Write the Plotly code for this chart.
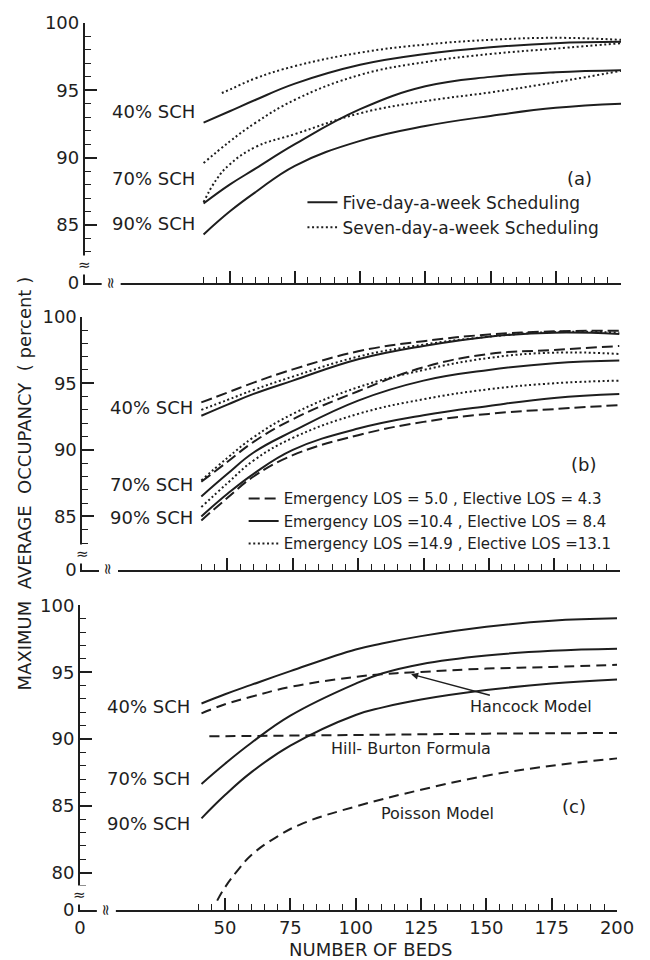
import plotly.graph_objects as go

# ---------------- data ----------------
BEDS = [40, 50, 60, 75, 100, 125, 150, 175, 200]

# Panel (a): five-day (solid) vs seven-day (dotted) scheduling
A_FIVE_40 = [92.6, 93.45, 94.3, 95.5, 96.9, 97.7, 98.2, 98.5, 98.6]
A_FIVE_70 = [86.6, 88.0, 89.2, 91.0, 93.6, 95.3, 96.0, 96.35, 96.5]
A_FIVE_90 = [84.3, 86.0, 87.45, 89.4, 91.25, 92.35, 93.1, 93.7, 94.0]
A_SEVEN_TOP_BEDS = [47, 50, 60, 75, 100, 125, 150, 175, 200]
A_SEVEN_TOP = [94.8, 95.05, 95.9, 96.8, 97.8, 98.4, 98.75, 98.9, 98.75]
A_SEVEN_MID = [89.6, 91.2, 92.6, 94.3, 96.15, 97.1, 97.7, 98.1, 98.5]
A_SEVEN_LOW_BEDS = [40, 45, 50, 60, 75, 100, 125, 150, 175, 200]
A_SEVEN_LOW = [86.7, 88.4, 89.5, 90.8, 91.75, 93.3, 94.2, 94.85, 95.6, 96.45]

# Panel (b): LOS scenarios (dashed = 5.0/4.3, solid = 10.4/8.4, dotted = 14.9/13.1)
B_DASH_40 = [93.56, 94.3, 95.05, 96.04, 97.4, 98.16, 98.66, 98.9, 98.95]
B_SOLID_40 = [92.56, 93.4, 94.2, 95.2, 96.8, 97.8, 98.5, 98.8, 98.7]
B_DOT_40 = [93.0, 93.75, 94.5, 95.5, 97.0, 97.9, 98.5, 98.85, 98.8]
B_DASH_70 = [87.6, 89.1, 90.6, 92.3, 94.4, 96.2, 97.2, 97.5, 97.8]
B_SOLID_70 = [86.5, 88.2, 89.8, 91.4, 93.7, 95.2, 96.0, 96.5, 96.7]
B_DOT_70 = [87.7, 89.4, 90.95, 92.7, 94.7, 96.0, 96.9, 97.3, 97.2]
B_DASH_90 = [84.7, 86.4, 88.0, 89.6, 91.1, 92.1, 92.7, 93.06, 93.36]
B_SOLID_90 = [85.0, 86.7, 88.2, 90.0, 91.6, 92.6, 93.3, 93.9, 94.2]
B_DOT_90 = [85.7, 87.5, 89.2, 90.9, 92.7, 93.8, 94.55, 95.0, 95.2]

# Panel (c): comparison with other models
C_BEDS = [41, 50, 60, 75, 100, 110, 125, 150, 175, 200]
C_SCH_40 = [92.66, 93.35, 94.05, 95.08, 96.7, 97.15, 97.7, 98.4, 98.85, 99.03]
C_SCH_70 = [86.64, 88.15, 89.7, 91.75, 94.15, 94.9, 95.6, 96.25, 96.6, 96.75]
C_SCH_90 = [84.06, 85.8, 87.5, 89.5, 91.8, 92.35, 92.95, 93.66, 94.15, 94.45]
C_HANCOCK = [91.92, 92.6, 93.16, 93.9, 94.65, 94.85, 95.02, 95.27, 95.39, 95.56]
HB_BEDS = [44, 100, 150, 200]
HILL_BURTON = [90.2, 90.3, 90.4, 90.45]
POISSON_BEDS = [47, 50, 55, 60, 70, 80, 100, 125, 150, 175, 200]
POISSON = [77.9, 78.9, 80.2, 81.3, 82.7, 83.7, 84.95, 86.2, 87.25, 88.0, 88.55]

X_TICKS = [50, 75, 100, 125, 150, 175, 200]
X_MINOR = list(range(40, 201, 5))
SCH_LABELS = ["40% SCH", "70% SCH", "90% SCH"]

# ---------------- geometry ----------------
W, H = 650, 960
L, R, T, B = 78, 18, 16, 50
PW, PH = W - L - R, H - T - B
X0 = -5.5          # position standing in for "0" on the broken x-axis
INK = "#1e1e1e"
FONT = "DejaVu Sans"


def fx(p):
    return (p - L) / PW


def fy(p):
    return (H - B - p) / PH


fig = go.Figure()


def add(x, y, xa, ya, dash, name=None, legend=None, show=False, width=2):
    fig.add_trace(go.Scatter(
        x=x, y=y, xaxis=xa, yaxis=ya, mode="lines",
        line=dict(color=INK, width=width, dash=dash, shape="spline", smoothing=1.2),
        name=name, legend=legend, showlegend=show, hoverinfo="skip"))


DOT = "2px,2.6px"
DASH_B = "11px,5px"
DASH_C = "10px,6px"

# panel (a)
add(BEDS, A_FIVE_40, "x", "y", "solid", "Five-day-a-week Scheduling", "legend", True)
add(A_SEVEN_TOP_BEDS, A_SEVEN_TOP, "x", "y", DOT, "Seven-day-a-week Scheduling", "legend", True)
add(BEDS, A_FIVE_70, "x", "y", "solid", legend="legend")
add(BEDS, A_FIVE_90, "x", "y", "solid", legend="legend")
add(BEDS, A_SEVEN_MID, "x", "y", DOT, legend="legend")
add(A_SEVEN_LOW_BEDS, A_SEVEN_LOW, "x", "y", DOT, legend="legend")

# panel (b)
add(BEDS, B_DASH_40, "x2", "y2", DASH_B, "Emergency LOS = 5.0 , Elective LOS = 4.3", "legend2", True)
add(BEDS, B_SOLID_40, "x2", "y2", "solid", "Emergency LOS =10.4 , Elective LOS = 8.4", "legend2", True)
add(BEDS, B_DOT_40, "x2", "y2", DOT, "Emergency LOS =14.9 , Elective LOS =13.1", "legend2", True)
for ys, d in [(B_DASH_70, DASH_B), (B_SOLID_70, "solid"), (B_DOT_70, DOT),
              (B_DASH_90, DASH_B), (B_SOLID_90, "solid"), (B_DOT_90, DOT)]:
    add(BEDS, ys, "x2", "y2", d, legend="legend2")

# panel (c)
add(C_BEDS, C_SCH_40, "x3", "y3", "solid")
add(C_BEDS, C_SCH_70, "x3", "y3", "solid")
add(C_BEDS, C_SCH_90, "x3", "y3", "solid")
add(C_BEDS, C_HANCOCK, "x3", "y3", DASH_C)
add(HB_BEDS, HILL_BURTON, "x3", "y3", DASH_C)
add(POISSON_BEDS, POISSON, "x3", "y3", DASH_C)


def xaxis(domain, anchor, labels):
    return dict(
        domain=domain, anchor=anchor, range=[X0, 200],
        showline=True, linewidth=2, linecolor=INK, showgrid=False, zeroline=False,
        tickmode="array", tickvals=[X0] + X_TICKS,
        ticktext=["0"] + [str(v) for v in X_TICKS],
        showticklabels=labels, ticks="inside", ticklen=12, tickwidth=1.6, tickcolor=INK,
        tickfont=dict(family=FONT, size=18, color=INK),
        minor=dict(tickmode="array", tickvals=X_MINOR, ticks="inside",
                   ticklen=6, tickwidth=1.4, tickcolor=INK),
        fixedrange=True)


def yaxis(domain, anchor, lo, majors, minors):
    return dict(
        domain=domain, anchor=anchor, range=[lo, 100],
        showline=True, linewidth=2, linecolor=INK, showgrid=False, zeroline=False,
        tickmode="array", tickvals=[lo] + majors,
        ticktext=["0"] + [str(v) for v in majors],
        ticks="inside", ticklen=12, tickwidth=1.6, tickcolor=INK,
        tickfont=dict(family=FONT, size=18, color=INK),
        minor=dict(tickmode="array", tickvals=minors, ticks="inside",
                   ticklen=6, tickwidth=1.4, tickcolor=INK),
        fixedrange=True)


YA, YB, YC = 80.7, 81.0, 77.2
minor_a = [v for v in range(83, 100) if v % 5]
minor_b = [v for v in range(83, 100) if v % 5]
minor_c = [v for v in range(79, 100) if v % 5]

fig.update_layout(
    width=W, height=H, margin=dict(l=L, r=R, t=T, b=B),
    paper_bgcolor="white", plot_bgcolor="white",
    font=dict(family=FONT, color=INK),
    xaxis=xaxis([fx(85), fx(632)], "y", False),
    yaxis=yaxis([fy(278), fy(16)], "x", YA, [85, 90, 95, 100], minor_a),
    xaxis2=xaxis([fx(82.5), fx(630.5)], "y2", False),
    yaxis2=yaxis([fy(567), fy(312)], "x2", YB, [85, 90, 95, 100], minor_b),
    xaxis3=xaxis([fx(80), fx(628)], "y3", True),
    yaxis3=yaxis([fy(910), fy(603)], "x3", YC, [80, 85, 90, 95, 100], minor_c),
    legend=dict(x=fx(307), y=fy(179), xanchor="left", yanchor="top",
                bgcolor="rgba(0,0,0,0)", font=dict(family=FONT, size=17, color=INK),
                tracegroupgap=0),
    legend2=dict(x=fx(247), y=fy(479), xanchor="left", yanchor="top",
                 bgcolor="rgba(0,0,0,0)", font=dict(family=FONT, size=15, color=INK),
                 tracegroupgap=0),
    showlegend=True,
)

ann = []
# SCH labels
sch_pos = [("x", "y", [93.46, 88.46, 85.15]),
           ("x2", "y2", [93.2, 87.4, 84.93]),
           ("x3", "y3", [92.4, 87.06, 83.7])]
for xr, yr, ys in sch_pos:
    for txt, yv in zip(SCH_LABELS, ys):
        ann.append(dict(x=37.5, y=yv, xref=xr, yref=yr, text=txt, showarrow=False,
                        xanchor="right", yanchor="middle",
                        font=dict(family=FONT, size=18, color=INK)))
# panel tags
for xr, yr, xv, yv, t in [("x", "y", 184.2, 88.46, "(a)"),
                          ("x2", "y2", 186.3, 88.9, "(b)"),
                          ("x3", "y3", 183.5, 84.98, "(c)")]:
    ann.append(dict(x=xv, y=yv, xref=xr, yref=yr, text=t, showarrow=False,
                    xanchor="center", yanchor="middle",
                    font=dict(family=FONT, size=18, color=INK)))
# panel (c) model labels
ann.append(dict(x=121.2, y=94.85, xref="x3", yref="y3", text="Hancock Model",
                showarrow=True, ax=120, ay=32, arrowhead=2, arrowsize=1,
                arrowwidth=1.4, arrowcolor=INK,
                font=dict(family=FONT, size=16, color=INK)))
ann.append(dict(x=121.2, y=89.29, xref="x3", yref="y3", text="Hill- Burton Formula",
                showarrow=False, xanchor="center", yanchor="middle",
                font=dict(family=FONT, size=16, color=INK)))
ann.append(dict(x=131.4, y=84.46, xref="x3", yref="y3", text="Poisson Model",
                showarrow=False, xanchor="center", yanchor="middle",
                font=dict(family=FONT, size=16, color=INK)))
# axis breaks
for xr, yr, yb in [("x", "y", 82.0), ("x2", "y2", 82.2), ("x3", "y3", 78.3)]:
    ann.append(dict(x=X0, y=yb, xref=xr, yref=yr, text="≈", showarrow=False,
                    xanchor="center", yanchor="middle",
                    bgcolor="white", borderpad=0,
                    font=dict(family=FONT, size=15, color=INK)))
for xr, yr, yl in [("x", "y", YA), ("x2", "y2", YB), ("x3", "y3", YC)]:
    ann.append(dict(x=4.6, y=yl, xref=xr, yref=yr, text="≈", showarrow=False,
                    xanchor="center", yanchor="middle",
                    textangle=90, bgcolor="white", borderpad=0,
                    font=dict(family=FONT, size=15, color=INK)))
# axis titles
ann.append(dict(x=fx(23), y=fy(480), xref="paper", yref="paper",
                xanchor="center", yanchor="middle",
                text="MAXIMUM  AVERAGE  OCCUPANCY  ( percent )", textangle=-90,
                showarrow=False, font=dict(family=FONT, size=18, color=INK)))
ann.append(dict(x=fx(376), y=fy(950), xref="paper", yref="paper",
                xanchor="center", yanchor="middle",
                text="NUMBER OF BEDS", showarrow=False,
                font=dict(family=FONT, size=18, color=INK)))
fig.update_layout(annotations=ann)

fig.write_html("out.html")
